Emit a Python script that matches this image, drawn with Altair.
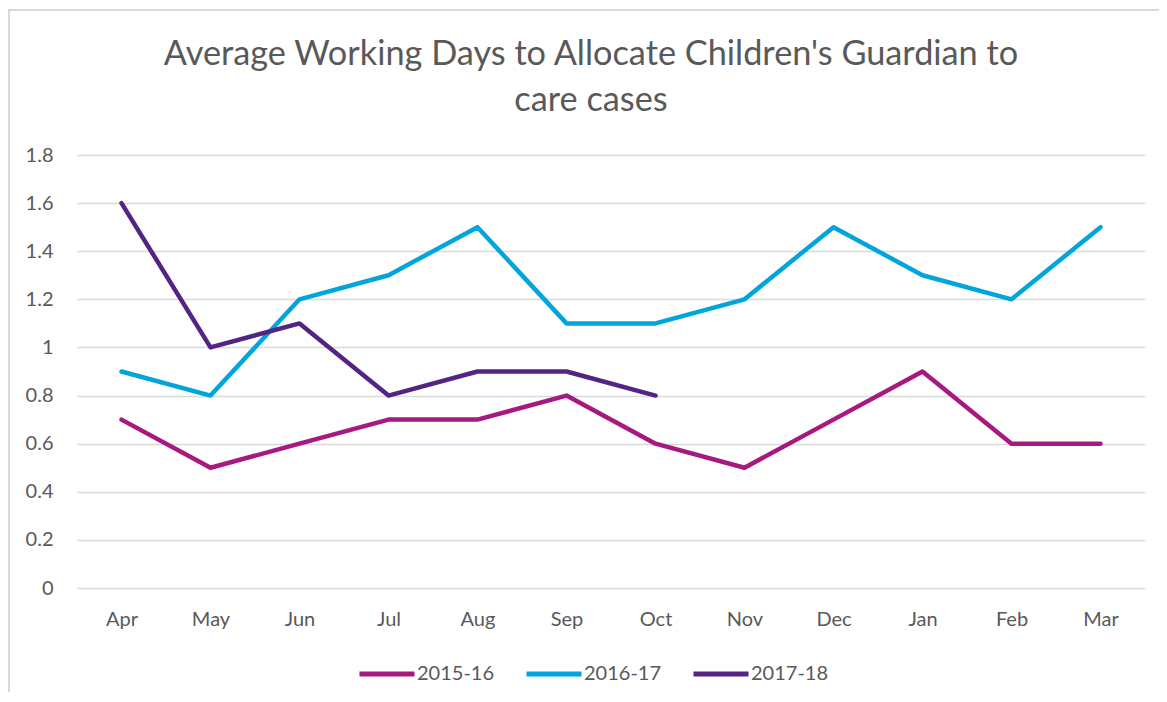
import altair as alt
import pandas as pd

months = ["Apr", "May", "Jun", "Jul", "Aug", "Sep", "Oct", "Nov", "Dec", "Jan", "Feb", "Mar"]
series_names = ["2015-16", "2016-17", "2017-18"]
v_2015_16 = [0.7, 0.5, 0.6, 0.7, 0.7, 0.8, 0.6, 0.5, 0.7, 0.9, 0.6, 0.6]
v_2016_17 = [0.9, 0.8, 1.2, 1.3, 1.5, 1.1, 1.1, 1.2, 1.5, 1.3, 1.2, 1.5]
v_2017_18 = [1.6, 1.0, 1.1, 0.8, 0.9, 0.9, 0.8]
colors = ["#A7197F", "#00A5DB", "#532483"]
y_ticks = [0, 0.2, 0.4, 0.6, 0.8, 1.0, 1.2, 1.4, 1.6, 1.8]
title_lines = ["Average Working Days to Allocate Children's Guardian to", "care cases"]

rows = []
for name, vals in zip(series_names, [v_2015_16, v_2016_17, v_2017_18]):
    for m, v in zip(months, vals):
        rows.append({"month": m, "value": v, "series": name})
df = pd.DataFrame(rows)

FONT = "Lato"
TXT = "#595959"
W, H = 1068, 433

lines = alt.Chart(df).mark_line(strokeWidth=4.5, strokeCap="round", strokeJoin="round").encode(
    x=alt.X("month:N", sort=months, title=None,
            scale=alt.Scale(padding=0.5),
            axis=alt.Axis(labelAngle=0, domain=False, ticks=False, grid=False,
                          labelPadding=21, labelFontSize=20, labelColor=TXT, labelFont=FONT)),
    y=alt.Y("value:Q", title=None,
            scale=alt.Scale(domain=[0, 1.8], nice=False),
            axis=alt.Axis(values=y_ticks, format=".1~f", domain=False, ticks=False,
                          grid=True, gridColor="#D9D9D9", gridWidth=1.5,
                          labelPadding=24, labelFontSize=20, labelColor=TXT, labelFont=FONT)),
    color=alt.Color("series:N", title=None,
                    scale=alt.Scale(domain=series_names, range=colors),
                    legend=alt.Legend(orient="none", legendX=280, legendY=489,
                                      direction="horizontal", symbolType="stroke",
                                      symbolStrokeWidth=5, symbolSize=3025,
                                      labelOffset=0, columnPadding=21, padding=0,
                                      labelFontSize=20, labelColor=TXT, labelFont=FONT)),
)

border = alt.Chart(pd.DataFrame({"k": [0]})).mark_rect(
    fill="transparent", stroke="#D9D9D9", strokeWidth=2
).encode(x=alt.value(-68), x2=alt.value(1120), y=alt.value(-145), y2=alt.value(600))

t1 = alt.Chart(pd.DataFrame({"t": [title_lines[0]]})).mark_text(
    font=FONT, fontSize=34.3, color=TXT, align="center", baseline="alphabetic"
).encode(text="t:N", x=alt.value(514), y=alt.value(-90))
t2 = alt.Chart(pd.DataFrame({"t": [title_lines[1]]})).mark_text(
    font=FONT, fontSize=34.3, color=TXT, align="center", baseline="alphabetic"
).encode(text="t:N", x=alt.value(514), y=alt.value(-44))

chart = alt.layer(border, lines, t1, t2).properties(
    width=W, height=H,
    autosize=alt.AutoSizeParams(type="none"),
    padding={"left": 69, "top": 147, "right": 14, "bottom": 104},
).configure(font=FONT).configure_view(stroke="transparent", strokeWidth=0)

chart.save("out.html", embed_options={"renderer": "svg", "actions": False})
